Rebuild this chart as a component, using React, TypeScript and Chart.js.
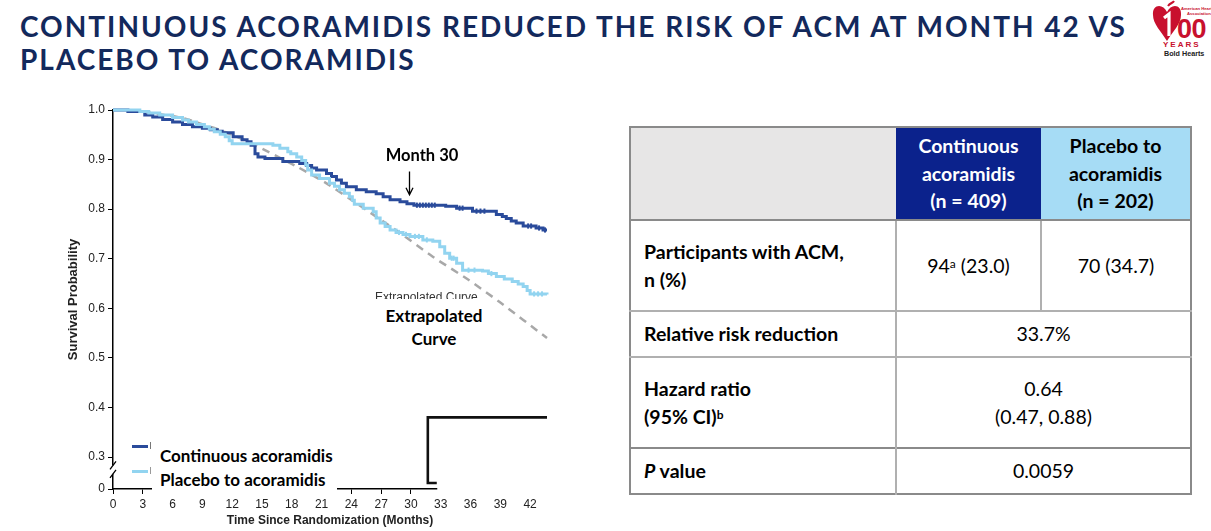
import React, { useEffect, useRef } from 'react';
import { Chart, registerables } from 'chart.js';

Chart.register(...registerables);

// ---------- data ----------
const xTicks = [0, 3, 6, 9, 12, 15, 18, 21, 24, 27, 30, 33, 36, 39, 42];
const Y_ZERO = 0.2355; // position of the "0" tick below the axis break
const yTickValues = [Y_ZERO, 0.3, 0.4, 0.5, 0.6, 0.7, 0.8, 0.9, 1.0];
const yTickLabels = ['0', '0.3', '0.4', '0.5', '0.6', '0.7', '0.8', '0.9', '1.0'];

// [month, survival probability]
const continuousKM: [number, number][] = [
  [0, 1], [1.5, 0.997], [3.2, 0.99], [4.0, 0.986], [5.0, 0.981], [6.0, 0.976], [7.0, 0.971],
  [8.0, 0.966], [9.0, 0.963], [9.8, 0.96], [10.5, 0.957], [11.0, 0.954], [12.1, 0.946],
  [13.0, 0.94], [13.5, 0.936], [13.9, 0.929], [14.3, 0.912], [14.6, 0.905], [15.3, 0.902],
  [17.1, 0.896], [18.8, 0.892], [19.5, 0.888], [20.0, 0.883], [20.5, 0.879], [21.5, 0.872],
  [22.0, 0.866], [22.5, 0.859], [23.0, 0.852], [23.5, 0.845], [24.5, 0.839], [25.5, 0.835],
  [26.5, 0.831], [27.2, 0.825], [27.9, 0.819], [28.9, 0.815], [29.6, 0.811], [30.3, 0.808],
  [33.5, 0.806], [34.6, 0.802], [36.2, 0.796], [38.6, 0.789], [39.2, 0.785], [39.6, 0.781],
  [40.1, 0.776], [40.6, 0.772], [41.3, 0.766], [42.6, 0.762], [43.3, 0.758], [43.7, 0.758],
];
const continuousCensored: [number, number][] = [
  [30.6, 0.808], [30.9, 0.808], [31.2, 0.808], [31.5, 0.808], [31.8, 0.808], [32.1, 0.808],
  [32.4, 0.808], [34.9, 0.802], [35.2, 0.802], [36.6, 0.796], [37.0, 0.796], [37.4, 0.796],
  [41.8, 0.766], [42.1, 0.766], [42.9, 0.762], [43.5, 0.758],
];
const placeboKM: [number, number][] = [
  [0, 1], [2.7, 0.997], [3.6, 0.994], [4.7, 0.99], [6.0, 0.985], [7.0, 0.98], [7.6, 0.976],
  [8.4, 0.971], [9.2, 0.966], [9.7, 0.961], [10.2, 0.956], [10.8, 0.951], [11.3, 0.946],
  [11.7, 0.938], [12.0, 0.932], [16.1, 0.929], [16.8, 0.923], [17.6, 0.916], [17.9, 0.912],
  [18.5, 0.905], [19.0, 0.898], [19.4, 0.889], [19.6, 0.879], [20.0, 0.869], [20.8, 0.862],
  [21.8, 0.852], [22.3, 0.846], [22.8, 0.839], [23.3, 0.832], [23.8, 0.825], [24.1, 0.818],
  [24.3, 0.81], [25.2, 0.802], [26.2, 0.795], [26.5, 0.782], [26.9, 0.772], [27.4, 0.765],
  [27.9, 0.758], [28.5, 0.753], [29.2, 0.749], [29.9, 0.745], [31.2, 0.738], [32.2, 0.735],
  [32.9, 0.724], [33.4, 0.711], [33.9, 0.701], [34.6, 0.691], [35.2, 0.677], [37.2, 0.675],
  [37.8, 0.67], [38.6, 0.664], [39.4, 0.659], [40.2, 0.654], [40.8, 0.649], [41.3, 0.644],
  [41.7, 0.636], [42.0, 0.629], [43.7, 0.628],
];
const placeboCensored: [number, number][] = [
  [28.8, 0.753], [29.5, 0.749], [30.4, 0.745], [30.8, 0.745], [31.6, 0.738], [34.1, 0.701],
  [34.3, 0.701], [35.8, 0.677], [36.4, 0.677], [38.1, 0.67], [42.4, 0.629], [42.8, 0.629],
  [43.2, 0.629],
];
const extrapolatedCurve: [number, number][] = [
  [3.0, 0.997], [5.2, 0.99], [7.2, 0.983], [8.9, 0.972], [10.6, 0.961], [12.2, 0.948],
  [13.6, 0.936], [15.3, 0.919], [18.5, 0.886], [21.5, 0.852], [24.5, 0.812], [28.9, 0.752],
  [32.2, 0.704], [35.6, 0.66], [38.9, 0.613], [43.7, 0.54],
];
// black bracket-shaped line drawn in the lower right of the plot
const bracketPath: [number, number][] = [
  [43.7, 0.38], [31.7, 0.38], [31.7, 0.2476], [32.6, 0.2476],
];
const axisCutMonth = 32.6; // x-axis line stops here
const arrowMonth = 30;

const DARK = '#2a4b9b';
const LIGHT = '#92d4f0';
const TICK_FONT = { family: 'Liberation Sans, Arial, sans-serif', size: 12 };
const X_TITLE_FONT = { family: 'Liberation Sans, Arial, sans-serif', size: 12, weight: 'bold' as const };
const Y_TITLE_FONT = { family: 'Liberation Sans, Arial, sans-serif', size: 13, weight: 'bold' as const };

const pts = (a: [number, number][]) => a.map(([x, y]) => ({ x, y }));

const overlayPlugin = {
  id: 'overlay',
  afterDraw(chart: any) {
    const { ctx, chartArea, scales } = chart;
    const xs = scales.x;
    const ys = scales.y;
    ctx.save();
    // hide x-axis line and tick marks past the cut
    const cx = xs.getPixelForValue(axisCutMonth);
    ctx.fillStyle = '#fff';
    ctx.fillRect(cx + 0.5, chartArea.bottom - 1.5, chartArea.right - cx + 5, 7.5);
    // y axis break
    const x0 = chartArea.left;
    const yA = ys.getPixelForValue(0.283);
    const yB = ys.getPixelForValue(0.266);
    ctx.fillRect(x0 - 3, yA, 6, yB - yA);
    ctx.strokeStyle = '#000';
    ctx.lineWidth = 1.3;
    ctx.beginPath();
    ctx.moveTo(x0 - 3, yA + 4);
    ctx.lineTo(x0 + 3, yA - 4);
    ctx.moveTo(x0 - 3, yB + 4);
    ctx.lineTo(x0 + 3, yB - 4);
    ctx.stroke();
    // Month 30 arrow
    const ax = Math.round(xs.getPixelForValue(arrowMonth)) - 1.5;
    const aTop = ys.getPixelForValue(0.876);
    const aBot = ys.getPixelForValue(0.829);
    ctx.lineWidth = 1.3;
    ctx.beginPath();
    ctx.moveTo(ax, aTop);
    ctx.lineTo(ax, aBot);
    ctx.moveTo(ax - 3.5, aBot - 7);
    ctx.lineTo(ax, aBot);
    ctx.lineTo(ax + 3.5, aBot - 7);
    ctx.stroke();
    ctx.restore();
  },
};

function KMChart() {
  const ref = useRef<HTMLCanvasElement | null>(null);
  useEffect(() => {
    if (!ref.current) return;
    const chart = new Chart(ref.current, {
      type: 'line',
      data: {
        datasets: [
          {
            label: 'Extrapolated Curve',
            data: pts(extrapolatedCurve),
            borderColor: '#a8a8a8',
            borderWidth: 2.5,
            borderDash: [8, 6],
            pointRadius: 0,
            tension: 0.3,
            order: 4,
            clip: false,
          } as any,
          {
            label: 'Continuous acoramidis',
            data: pts(continuousKM),
            borderColor: DARK,
            borderWidth: 3,
            stepped: true,
            pointRadius: 0,
            order: 3,
            clip: false,
          },
          {
            type: 'scatter',
            label: 'Continuous censored',
            data: pts(continuousCensored),
            pointStyle: 'line',
            rotation: 90,
            radius: 2.6,
            borderColor: DARK,
            borderWidth: 2,
            order: 3,
          } as any,
          {
            label: 'Placebo to acoramidis',
            data: pts(placeboKM),
            borderColor: LIGHT,
            borderWidth: 3,
            stepped: true,
            pointRadius: 0,
            order: 2,
            clip: false,
          },
          {
            type: 'scatter',
            label: 'Placebo censored',
            data: pts(placeboCensored),
            pointStyle: 'line',
            rotation: 90,
            radius: 2.6,
            borderColor: LIGHT,
            borderWidth: 2,
            order: 2,
          } as any,
          {
            label: 'bracket',
            data: pts(bracketPath),
            borderColor: '#111',
            borderWidth: 2.6,
            pointRadius: 0,
            order: 1,
            clip: false,
          },
        ],
      },
      options: {
        animation: false,
        responsive: false,
        events: [],
        layout: { padding: { top: 15, right: 53, left: 0, bottom: 0 } },
        plugins: { legend: { display: false }, tooltip: { enabled: false } },
        scales: {
          x: {
            type: 'linear',
            min: 0,
            max: 43.7,
            afterBuildTicks: (s: any) => {
              s.ticks = xTicks.map((v) => ({ value: v }));
            },
            afterFit: (s: any) => {
              s.height = 42;
            },
            ticks: {
              font: TICK_FONT,
              color: '#222',
              padding: 3,
              maxRotation: 0,
              autoSkip: false,
              callback: (v: any) => String(v),
            },
            grid: { display: true, drawOnChartArea: false, drawTicks: true, tickLength: 5, color: '#000', lineWidth: 1 },
            border: { display: true, color: '#000', width: 1.5 },
            title: {
              display: true,
              text: 'Time Since Randomization (Months)',
              font: X_TITLE_FONT,
              color: '#222',
              padding: { top: 0, bottom: 3 },
            },
          },
          y: {
            type: 'linear',
            min: Y_ZERO,
            max: 1.0,
            afterBuildTicks: (s: any) => {
              s.ticks = yTickValues.map((v) => ({ value: v }));
            },
            afterFit: (s: any) => {
              s.width = 113;
            },
            ticks: {
              font: TICK_FONT,
              color: '#222',
              padding: 3,
              autoSkip: false,
              callback: (_v: any, i: number) => yTickLabels[i],
            },
            grid: { display: true, drawOnChartArea: false, drawTicks: true, tickLength: 5, color: '#000', lineWidth: 1 },
            border: { display: true, color: '#000', width: 1.5 },
            title: {
              display: true,
              text: 'Survival Probability',
              font: Y_TITLE_FONT,
              color: '#222',
              padding: { top: 66, bottom: 0 },
            },
          },
        },
      } as any,
      plugins: [overlayPlugin],
    });
    return () => chart.destroy();
  }, []);
  return (
    <canvas
      ref={ref}
      width={600}
      height={436}
      style={{ position: 'absolute', left: 0, top: 95, width: 600, height: 436 }}
    />
  );
}

const CAL = 'Lato, "Noto Sans", sans-serif';

const abs = (l: number, t: number, extra: React.CSSProperties = {}): React.CSSProperties => ({
  position: 'absolute',
  left: l,
  top: t,
  ...extra,
});

function Logo() {
  return (
    <svg width={64} height={60} viewBox="0 0 64 60" style={abs(1148, 0)}>
      <path
        d="M19 12 C15 3 4 4 5 15 C5 24 13 31 19 41 C25 31 33 24 33 15 C34 4 23 3 19 12 Z"
        fill="#c8102e"
      />
      <path d="M20 6 C22 3 25 3 26 1" stroke="#c8102e" strokeWidth={2} fill="none" />
      <path d="M16 18 L21 14 L21 36" stroke="#fff" strokeWidth={3.2} fill="none" />
      <text x={33} y={10} fontSize={4.2} fill="#c8102e" fontFamily="Liberation Sans" fontWeight="bold">American Heart</text>
      <text x={39} y={14.5} fontSize={4.2} fill="#c8102e" fontFamily="Liberation Sans" fontWeight="bold">Association.</text>
      <text x={29} y={38} fontSize={27} fill="#c8102e" fontFamily="Liberation Sans" fontWeight="bold" letterSpacing={-0.5}>00</text>
      <text x={15} y={47} fontSize={8} fill="#c8102e" fontFamily="Liberation Sans" fontWeight="bold" letterSpacing={2}>YEARS</text>
      <text x={16} y={55.5} fontSize={7.2} fill="#222" fontFamily="Liberation Sans" fontWeight="bold">Bold Hearts</text>
    </svg>
  );
}

const outer = '2px solid #8a8a8a';
const inner = '2px solid #b0b0b0';

function ResultsTable() {
  const cell: React.CSSProperties = {
    padding: 0,
    verticalAlign: 'middle',
    fontFamily: CAL,
    fontSize: 19.5,
    lineHeight: '27.5px',
    color: '#000',
  };
  const label: React.CSSProperties = { ...cell, fontWeight: 'bold', textAlign: 'left', paddingLeft: 13, borderRight: inner };
  const val: React.CSSProperties = { ...cell, textAlign: 'center' };
  const head: React.CSSProperties = { ...cell, fontWeight: 'bold', textAlign: 'center', lineHeight: '27.5px' };
  const sup: React.CSSProperties = { fontSize: 12, verticalAlign: 'top', position: 'relative', top: -2 };
  return (
    <table
      style={{
        ...abs(629, 126),
        width: 561,
        height: 367,
        borderCollapse: 'collapse',
        tableLayout: 'fixed',
        border: outer,
      }}
    >
      <colgroup>
        <col style={{ width: 266 }} />
        <col style={{ width: 145 }} />
        <col style={{ width: 150 }} />
      </colgroup>
      <tbody>
        <tr style={{ height: 93 }}>
          <td style={{ ...cell, background: '#e7e6e6', borderBottom: outer }} />
          <td style={{ ...head, background: '#0b228c', color: '#fff', borderBottom: outer }}>
            Continuous
            <br />
            acoramidis
            <br />
            (n = 409)
          </td>
          <td style={{ ...head, background: '#a6dcf5', borderBottom: outer }}>
            Placebo to
            <br />
            acoramidis
            <br />
            (n = 202)
          </td>
        </tr>
        <tr style={{ height: 91, borderBottom: inner }}>
          <td style={label}>
            Participants with ACM,
            <br />
            n (%)
          </td>
          <td style={{ ...val, borderRight: inner }}>
            94<sup style={sup}>a</sup> (23.0)
          </td>
          <td style={val}>70 (34.7)</td>
        </tr>
        <tr style={{ height: 46, borderBottom: inner }}>
          <td style={label}>Relative risk reduction</td>
          <td style={val} colSpan={2}>
            33.7%
          </td>
        </tr>
        <tr style={{ height: 91, borderBottom: outer }}>
          <td style={label}>
            Hazard ratio
            <br />
            (95% CI)<sup style={sup}>b</sup>
          </td>
          <td style={val} colSpan={2}>
            0.64
            <br />
            (0.47, 0.88)
          </td>
        </tr>
        <tr style={{ height: 46 }}>
          <td style={label}>
            <i>P</i> value
          </td>
          <td style={val} colSpan={2}>
            0.0059
          </td>
        </tr>
      </tbody>
    </table>
  );
}

export default function App() {
  return (
    <div
      style={{
        position: 'fixed',
        left: 0,
        top: 0,
        width: 1211,
        height: 531,
        background: '#fff',
        overflow: 'hidden',
      }}
    >
      <div
        style={abs(20, 10, {
          fontFamily: CAL,
          fontWeight: 'bold',
          fontSize: 28,
          letterSpacing: 2,
          lineHeight: '33px',
          color: '#13295c',
          whiteSpace: 'nowrap',
        })}
      >
        CONTINUOUS ACORAMIDIS REDUCED THE RISK OF ACM AT MONTH 42 VS
        <br />
        PLACEBO TO ACORAMIDIS
      </div>
      <Logo />
      <KMChart />
      {/* clipped small label under the annotation box */}
      <div
        style={abs(375, 290, {
          fontFamily: 'Liberation Sans, Arial, sans-serif',
          fontSize: 12,
          lineHeight: '14px',
          color: '#333',
          whiteSpace: 'nowrap',
        })}
      >
        Extrapolated Curve
      </div>
      <div
        style={abs(372, 299, {
          width: 124,
          height: 53,
          background: '#fff',
          fontFamily: CAL,
          fontWeight: 'bold',
          fontSize: 17,
          lineHeight: '23px',
          textAlign: 'center',
          color: '#000',
          paddingTop: 5,
          boxSizing: 'border-box',
        })}
      >
        Extrapolated
        <br />
        Curve
      </div>
      <div
        style={abs(372, 144, {
          width: 100,
          fontFamily: CAL,
          fontWeight: 'bold',
          fontSize: 16.5,
          lineHeight: '22px',
          textAlign: 'center',
          color: '#000',
        })}
      >
        Month 30
      </div>
      {/* legend */}
      <div style={abs(132, 444.5, { width: 16, height: 3, background: DARK })} />
      <div style={abs(132, 469.5, { width: 16, height: 3, background: LIGHT })} />
      <div style={abs(149.5, 442, { width: 1.5, height: 7, background: '#777' })} />
      <div style={abs(149.5, 467, { width: 1.5, height: 7, background: '#999' })} />
      <div
        style={abs(152, 437, {
          width: 185,
          height: 60,
          background: '#fff',
          fontFamily: CAL,
          fontWeight: 'bold',
          fontSize: 17,
          lineHeight: '23.5px',
          color: '#000',
          paddingLeft: 8,
          paddingTop: 7,
          boxSizing: 'border-box',
          whiteSpace: 'nowrap',
        })}
      >
        Continuous acoramidis
        <br />
        Placebo to acoramidis
      </div>
      <ResultsTable />
    </div>
  );
}
